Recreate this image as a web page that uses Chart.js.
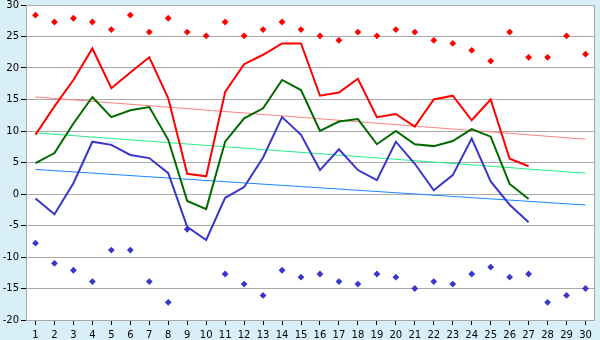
<!DOCTYPE html>
<html>
<head>
<meta charset="utf-8">
<script src="https://cdn.jsdelivr.net/npm/chart.js@4"></script>
<style>
    html, body { margin: 0; padding: 0; background: #d9eff7; }
    #wrap { width: 600px; height: 340px; position: relative; }
</style>
</head>
<body>
<div id="wrap"><canvas id="tempChart" width="600" height="340"></canvas></div>
<script>
// days of the month
const days = ['1','2','3','4','5','6','7','8','9','10','11','12','13','14','15',
              '16','17','18','19','20','21','22','23','24','25','26','27','28','29','30'];

// daily temperatures, °C
const maxTemp  = [9.4, 13.9, 18.1, 23.1, 16.8, 19.3, 21.7, 15.2, 3.2, 2.8, 16.2, 20.6, 22.1, 23.9, 23.9,
                  15.6, 16.1, 18.3, 12.2, 12.7, 10.7, 15.0, 15.6, 11.7, 15.0, 5.6, 4.4, null, null, null];
const meanTemp = [4.9, 6.5, 11.2, 15.4, 12.2, 13.3, 13.8, 8.6, -1.1, -2.4, 8.3, 12.0, 13.6, 18.1, 16.5,
                  10.0, 11.5, 11.9, 7.9, 10.0, 7.9, 7.6, 8.4, 10.3, 9.1, 1.6, -0.8, null, null, null];
const minTemp  = [-0.7, -3.2, 1.7, 8.3, 7.8, 6.2, 5.7, 3.3, -5.2, -7.3, -0.6, 1.1, 5.8, 12.2, 9.4,
                  3.8, 7.1, 3.8, 2.2, 8.3, 4.8, 0.6, 3.0, 8.8, 2.0, -1.7, -4.5, null, null, null];

// records per day
const recordHigh = [28.4, 27.3, 27.9, 27.3, 26.1, 28.4, 25.7, 27.9, 25.7, 25.1, 27.3, 25.1, 26.1, 27.3, 26.1,
                    25.1, 24.4, 25.7, 25.1, 26.1, 25.7, 24.4, 23.9, 22.8, 21.1, 25.7, 21.7, 21.7, 25.1, 22.2];
const recordLow  = [-7.8, -11.0, -12.1, -13.9, -8.9, -8.9, -13.9, -17.2, -5.6, null, -12.7, -14.3, -16.1, -12.1, -13.2,
                    -12.7, -13.9, -14.3, -12.7, -13.2, -15.0, -13.9, -14.3, -12.7, -11.6, -13.2, -12.7, -17.2, -16.1, -15.0];

// trend lines: value on the first and last day
const maxTrend  = [15.4, 8.7];
const meanTrend = [9.7, 3.3];
const minTrend  = [3.9, -1.75];

const yTicks = { min: -20, max: 30, step: 5 };

const GRID = '#a9a9a9';
const FONT = { family: 'DejaVu Sans', size: 10 };

function trendData(ends) {
    return [{ x: days[0], y: ends[0] }, { x: days[days.length - 1], y: ends[1] }];
}

// white plot area with a grey frame on the light blue page
const plotFrame = {
    id: 'plotFrame',
    beforeDraw(chart) {
        const { ctx, chartArea: a } = chart;
        ctx.save();
        ctx.fillStyle = '#d9eff7';
        ctx.fillRect(0, 0, chart.width, chart.height);
        ctx.fillStyle = '#ffffff';
        ctx.fillRect(a.left, a.top, a.right - a.left, a.bottom - a.top);
        ctx.restore();
    },
    beforeDatasetsDraw(chart) {
        const { ctx, chartArea: a } = chart;
        ctx.save();
        ctx.strokeStyle = GRID;
        ctx.lineWidth = 1;
        ctx.strokeRect(Math.round(a.left) + 0.5, Math.round(a.top) + 0.5,
                       Math.round(a.right - a.left) - 1, Math.round(a.bottom - a.top));
        ctx.restore();
    }
};

function lineSet(data, color, width) {
    return { type: 'line', data, borderColor: color, backgroundColor: color, borderWidth: width,
             pointRadius: 0, pointHoverRadius: 0, tension: 0, fill: false, spanGaps: false };
}

function markSet(data, color) {
    return { type: 'line', data, showLine: false, pointStyle: 'rectRot', pointRadius: 3.4,
             pointBorderWidth: 0, pointBackgroundColor: color, borderColor: color, backgroundColor: color };
}

function initChart() {
    const ctx = document.getElementById('tempChart');
    new Chart(ctx, {
        type: 'line',
        data: {
            labels: days,
            datasets: [
                markSet(recordHigh, '#ff0000'),
                markSet(recordLow, '#3a36cc'),
                lineSet(maxTemp, '#ff0000', 2),
                lineSet(meanTemp, '#006a00', 2),
                lineSet(minTemp, '#3a36cc', 2),
                lineSet(trendData(maxTrend), '#ff8080', 1),
                lineSet(trendData(meanTrend), '#22f088', 1),
                lineSet(trendData(minTrend), '#1a86ff', 1)
            ]
        },
        options: {
            responsive: false,
            animation: false,
            events: [],
            layout: { padding: { top: 5, right: 5, left: 0, bottom: 0 } },
            plugins: { legend: { display: false }, tooltip: { enabled: false } },
            scales: {
                x: {
                    offset: true,
                    grid: { offset: false, drawOnChartArea: false, drawTicks: true, tickLength: 5, tickColor: '#000' },
                    border: { display: false },
                    ticks: { color: '#000', font: FONT, padding: 4, maxRotation: 0, autoSkip: false },
                    afterFit: s => { s.height = 20; s.paddingLeft = 0; s.paddingRight = 0; }
                },
                y: {
                    min: yTicks.min, max: yTicks.max,
                    grid: { color: GRID, tickLength: 5, tickColor: '#000' },
                    border: { color: GRID },
                    ticks: { stepSize: yTicks.step, color: '#000', font: FONT, padding: 2 },
                    afterFit: s => { s.width = 26; s.paddingTop = 0; s.paddingBottom = 0; }
                }
            }
        },
        plugins: [plotFrame]
    });
}

document.addEventListener('DOMContentLoaded', initChart);
</script>
</body>
</html>
